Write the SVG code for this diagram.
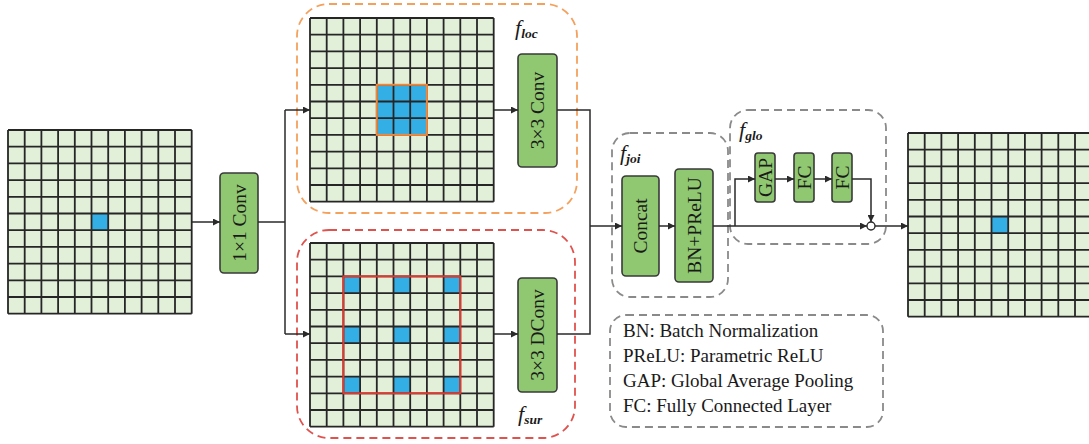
<svg xmlns="http://www.w3.org/2000/svg" width="1089" height="444" viewBox="0 0 1089 444">
  <style>
    .cellbg { fill: #e2efd9; }
    .gl { fill: none; stroke: #262626; stroke-width: 1.8; }
    .hit { fill: #33afe6; }
    .blk { fill: #8fc870; stroke: #3a3a3a; stroke-width: 1.6; }
    .lbl { font-family: "Liberation Serif", "Times New Roman", serif; font-size: 19.5px; fill: #1a1a1a; }
    .flab { font-family: "Liberation Serif", "Times New Roman", serif; font-style: italic; font-size: 22px; fill: #1a1a1a; }
    .fsub { font-size: 13.5px; font-weight: bold; }
    .leg { font-family: "Liberation Serif", "Times New Roman", serif; font-size: 19px; fill: #1a1a1a; }
    .wire { fill: none; stroke: #2a2a2a; stroke-width: 1.5; }
    .dash { fill: none; stroke-width: 1.8; stroke-dasharray: 8 5; }
  </style>
  <defs>
    <marker id="arr" viewBox="0 0 10 10" refX="10" refY="5" markerWidth="7" markerHeight="7" markerUnits="userSpaceOnUse" orient="auto">
      <path d="M0 0L10 5L0 10z" fill="#2a2a2a"/>
    </marker>
    <!-- 11 x 11 cell lattice, cell pitch 16.7 -->
    <path id="lattice" class="gl" d="M0 0V183.7M16.7 0V183.7M33.4 0V183.7M50.1 0V183.7M66.8 0V183.7M83.5 0V183.7M100.2 0V183.7M116.9 0V183.7M133.6 0V183.7M150.3 0V183.7M167 0V183.7M183.7 0V183.7M0 0H183.7M0 16.7H183.7M0 33.4H183.7M0 50.1H183.7M0 66.8H183.7M0 83.5H183.7M0 100.2H183.7M0 116.9H183.7M0 133.6H183.7M0 150.3H183.7M0 167H183.7M0 183.7H183.7"/>
    <rect id="bg" class="cellbg" x="0" y="0" width="183.7" height="183.7"/>
  </defs>

  <!-- input feature map -->
  <g id="input-map" transform="translate(8,130)">
    <use href="#bg"/>
    <rect class="hit" x="83.5" y="83.5" width="16.7" height="16.7"/>
    <use href="#lattice"/>
  </g>

  <!-- 1x1 conv -->
  <g id="conv1x1">
    <rect class="blk" x="220" y="173" width="38" height="100" rx="4"/>
    <text class="lbl" transform="translate(239,223) rotate(-90)" text-anchor="middle" dominant-baseline="central">1×1 Conv</text>
  </g>

  <!-- local branch -->
  <g id="f-loc">
    <rect class="dash" stroke="#f4a15d" x="297" y="4" width="280" height="209" rx="32"/>
    <text class="flab" x="515" y="35">f<tspan class="fsub" dy="3">loc</tspan></text>
  </g>
  <g id="local-map" transform="translate(310,18)">
    <use href="#bg"/>
    <rect class="hit" x="66.8" y="66.8" width="50.1" height="50.1"/>
    <use href="#lattice"/>
    <rect x="66.8" y="66.8" width="50.1" height="50.1" fill="none" stroke="#f0883c" stroke-width="2"/>
  </g>
  <g id="conv3x3">
    <rect class="blk" x="518" y="54" width="39" height="113" rx="4"/>
    <text class="lbl" transform="translate(537.5,110.5) rotate(-90)" text-anchor="middle" dominant-baseline="central">3×3 Conv</text>
  </g>

  <!-- surrounding branch -->
  <g id="f-sur">
    <rect class="dash" stroke="#e0524d" x="297" y="230" width="278" height="208" rx="32"/>
    <text class="flab" x="518" y="421">f<tspan class="fsub" dy="3">sur</tspan></text>
  </g>
  <g id="surround-map" transform="translate(310,243)">
    <use href="#bg"/>
    <rect class="hit" x="33.4" y="33.4" width="16.7" height="16.7"/>
    <rect class="hit" x="83.5" y="33.4" width="16.7" height="16.7"/>
    <rect class="hit" x="133.6" y="33.4" width="16.7" height="16.7"/>
    <rect class="hit" x="33.4" y="83.5" width="16.7" height="16.7"/>
    <rect class="hit" x="83.5" y="83.5" width="16.7" height="16.7"/>
    <rect class="hit" x="133.6" y="83.5" width="16.7" height="16.7"/>
    <rect class="hit" x="33.4" y="133.6" width="16.7" height="16.7"/>
    <rect class="hit" x="83.5" y="133.6" width="16.7" height="16.7"/>
    <rect class="hit" x="133.6" y="133.6" width="16.7" height="16.7"/>
    <use href="#lattice"/>
    <rect x="33.4" y="33.4" width="116.9" height="116.9" fill="none" stroke="#e03a30" stroke-width="2"/>
  </g>
  <g id="dconv3x3">
    <rect class="blk" x="518" y="278" width="39" height="114" rx="4"/>
    <text class="lbl" transform="translate(537.5,335) rotate(-90)" text-anchor="middle" dominant-baseline="central">3×3 DConv</text>
  </g>

  <!-- joint stage -->
  <g id="f-joi">
    <rect class="dash" stroke="#8a8a8a" x="612" y="133" width="116" height="164" rx="18"/>
    <text class="flab" x="620" y="160">f<tspan class="fsub" dy="3">joi</tspan></text>
  </g>
  <g id="concat">
    <rect class="blk" x="622" y="176" width="37" height="100" rx="4"/>
    <text class="lbl" transform="translate(640.5,226) rotate(-90)" text-anchor="middle" dominant-baseline="central">Concat</text>
  </g>
  <g id="bn-prelu">
    <rect class="blk" x="675" y="169" width="38" height="113" rx="4"/>
    <text class="lbl" transform="translate(694,225.5) rotate(-90)" text-anchor="middle" dominant-baseline="central">BN+PReLU</text>
  </g>

  <!-- global stage -->
  <g id="f-glo">
    <rect class="dash" stroke="#8a8a8a" x="730" y="110" width="156" height="134" rx="18"/>
    <text class="flab" x="739" y="137">f<tspan class="fsub" dy="3">glo</tspan></text>
  </g>
  <g id="gap">
    <rect class="blk" x="755" y="153" width="20" height="49" rx="3"/>
    <text class="lbl" transform="translate(765,177.5) rotate(-90)" text-anchor="middle" dominant-baseline="central">GAP</text>
  </g>
  <g id="fc1">
    <rect class="blk" x="794" y="153" width="20" height="49" rx="3"/>
    <text class="lbl" transform="translate(804,177.5) rotate(-90)" text-anchor="middle" dominant-baseline="central">FC</text>
  </g>
  <g id="fc2">
    <rect class="blk" x="832" y="153" width="20" height="49" rx="3"/>
    <text class="lbl" transform="translate(842,177.5) rotate(-90)" text-anchor="middle" dominant-baseline="central">FC</text>
  </g>
  <g id="product">
    <circle cx="871" cy="226" r="4" fill="#ffffff" stroke="#2a2a2a" stroke-width="1.4"/>
  </g>

  <!-- output feature map -->
  <g id="output-map" transform="translate(908,133)">
    <use href="#bg"/>
    <rect class="hit" x="83.5" y="83.5" width="16.7" height="16.7"/>
    <use href="#lattice"/>
  </g>

  <!-- legend -->
  <g id="legend">
    <rect class="dash" stroke="#8a8a8a" x="610" y="315" width="273" height="112" rx="16"/>
    <text class="leg" x="623" y="337">BN: Batch Normalization</text>
    <text class="leg" x="623" y="362">PReLU: Parametric ReLU</text>
    <text class="leg" x="623" y="387">GAP: Global Average Pooling</text>
    <text class="leg" x="623" y="412">FC: Fully Connected Layer</text>
  </g>

  <!-- connectors -->
  <g id="connectors">
    <path class="wire" d="M192 222H220" marker-end="url(#arr)"/>
    <path class="wire" d="M258 222H285"/>
    <path class="wire" d="M285 110V334"/>
    <path class="wire" d="M285 110H310" marker-end="url(#arr)"/>
    <path class="wire" d="M285 334H310" marker-end="url(#arr)"/>
    <path class="wire" d="M494 110H518" marker-end="url(#arr)"/>
    <path class="wire" d="M494 334H518" marker-end="url(#arr)"/>
    <path class="wire" d="M557 110H590V334H557"/>
    <path class="wire" d="M590 226H622" marker-end="url(#arr)"/>
    <path class="wire" d="M659 226H675" marker-end="url(#arr)"/>
    <path class="wire" d="M713 226H867" marker-end="url(#arr)"/>
    <path class="wire" d="M735 226V179H755" marker-end="url(#arr)"/>
    <path class="wire" d="M775 179H794" marker-end="url(#arr)"/>
    <path class="wire" d="M814 179H832" marker-end="url(#arr)"/>
    <path class="wire" d="M852 179H871V222" marker-end="url(#arr)"/>
    <path class="wire" d="M875 226H908" marker-end="url(#arr)"/>
  </g>
</svg>
